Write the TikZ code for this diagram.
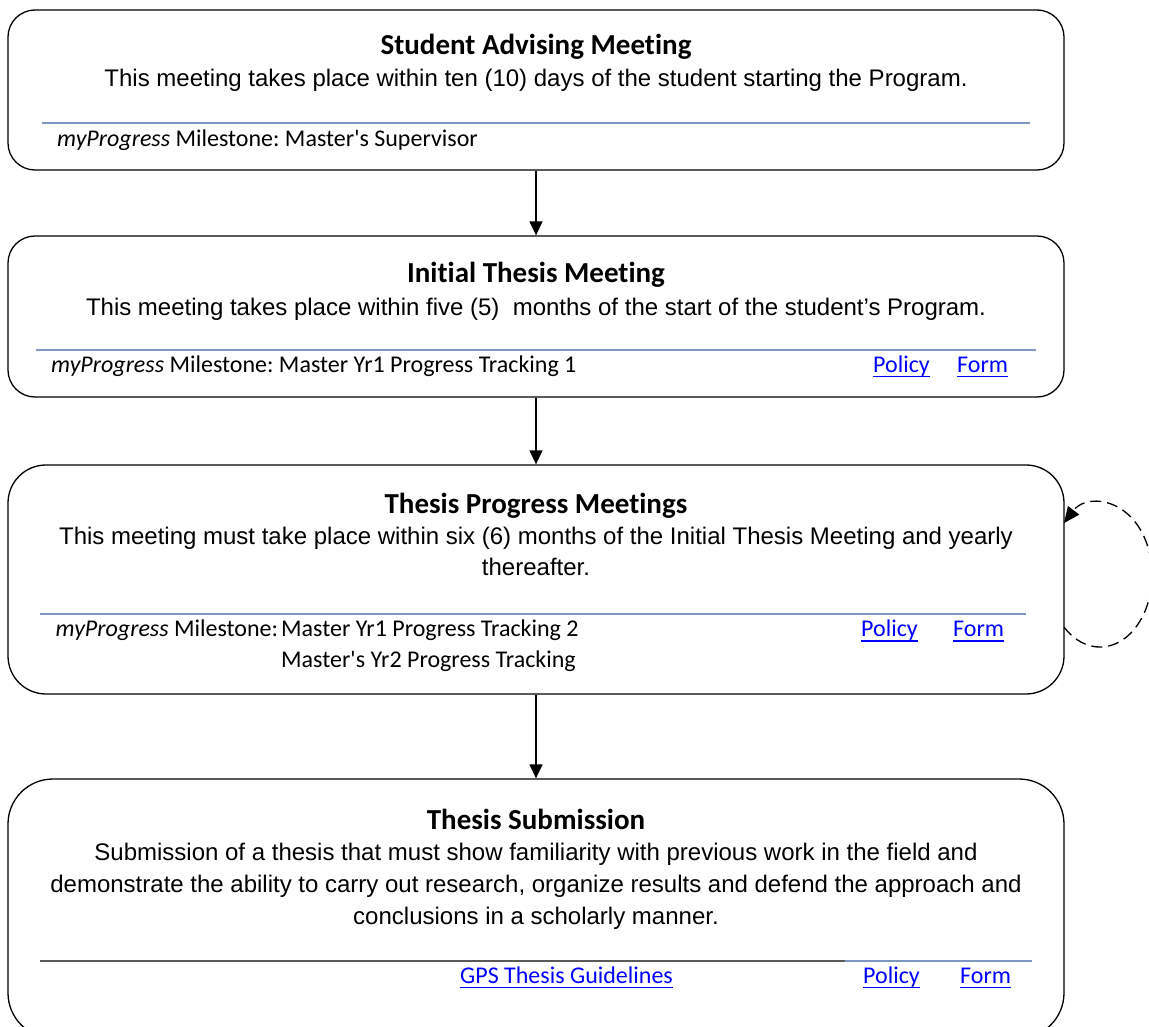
\documentclass[tikz,border=0pt]{standalone}
\usepackage{fontspec}
\setmainfont{Liberation Sans}
\newfontfamily\calibri[Ligatures=NoCommon]{Carlito}
\usetikzlibrary{arrows.meta}
\definecolor{ruleblue}{RGB}{126,151,193}
\definecolor{rulegray}{RGB}{89,89,89}
\definecolor{linkblue}{RGB}{0,0,255}
\newcommand{\lnk}[1]{\textcolor{linkblue}{\sbox0{#1}\rlap{\rule[-5.3pt]{\wd0}{1.6pt}}\usebox0}}
\frenchspacing
\begin{document}
\begin{tikzpicture}[x=1pt,y=1pt,
  meetbox/.style={draw=black,line width=1.3pt,rounded corners=#1,inner sep=0pt,minimum width=1056pt},
  headtxt/.style={anchor=base,inner sep=0pt,font=\calibri\bfseries\fontsize{29}{31}\selectfont},
  bodytxt/.style={anchor=base,inner sep=0pt,font=\fontsize{24}{31}\selectfont},
  milestxt/.style={anchor=base west,inner sep=0pt,font=\calibri\fontsize{24}{31}\selectfont},
  steparrow/.style={line width=1.3pt,-{Triangle[length=14pt,width=13pt]}},
  rulebar/.style={ruleblue,line width=1.5pt}]
  \useasboundingbox (0,0) rectangle (1149,-1027);
  % boxes
  \node[meetbox=27pt,minimum height=160pt] (advising) at (536,-90) {};
  \node[meetbox=27pt,minimum height=161pt] (initial) at (536,-316.5) {};
  \node[meetbox=38pt,minimum height=229pt] (progress) at (536,-579.5) {};
  \node[meetbox=45pt,minimum height=259pt] (submission) at (536,-908.5) {};
  % student advising meeting
  \node[headtxt] (advisinghead) at (536,-55) {Student Advising Meeting};
  \node[bodytxt] (advisingbody) at (536,-87) {This meeting takes place within ten (10) days of the student starting the Program.};
  \draw[rulebar] (42,-123) -- (1030,-123);
  \node[milestxt] (advisingmile) at (57,-147) {\textit{myProgress} Milestone: Master's Supervisor};
  % initial thesis meeting
  \node[headtxt] (initialhead) at (536,-283) {Initial Thesis Meeting};
  \node[bodytxt] (initialbody) at (536,-315) {This meeting takes place within five (5)\ \ months of the start of the student’s Program.};
  \draw[rulebar] (36,-350) -- (1036,-350);
  \node[milestxt] (initialmile) at (51,-372) {\textit{myProgress} Milestone: Master Yr1 Progress Tracking 1};
  \node[milestxt] (initialpolicy) at (873,-372) {\lnk{Policy}};
  \node[milestxt] (initialform) at (957,-372) {\lnk{Form}};
  % thesis progress meetings
  \node[headtxt] (progresshead) at (536,-513) {Thesis Progress Meetings};
  \node[bodytxt] (progressbodya) at (536,-544) {This meeting must take place within six (6) months of the Initial Thesis Meeting and yearly};
  \node[bodytxt] (progressbodyb) at (536,-575) {thereafter.};
  \draw[rulebar] (40,-614) -- (1026,-614);
  \node[milestxt] (progressmile) at (55.5,-636.5) {\textit{myProgress} Milestone:};
  \node[milestxt] (progressyra) at (281,-636.5) {Master Yr1 Progress Tracking 2};
  \node[milestxt] (progressyrb) at (281,-667) {Master's Yr2 Progress Tracking};
  \node[milestxt] (progresspolicy) at (861,-636.5) {\lnk{Policy}};
  \node[milestxt] (progressform) at (953,-636.5) {\lnk{Form}};
  % thesis submission
  \node[headtxt] (submissionhead) at (536,-829) {Thesis Submission};
  \node[bodytxt] (submissionbodya) at (536,-860) {Submission of a thesis that must show familiarity with previous work in the field and};
  \node[bodytxt] (submissionbodyb) at (536,-892) {demonstrate the ability to carry out research, organize results and defend the approach and};
  \node[bodytxt] (submissionbodyc) at (536,-924) {conclusions in a scholarly manner.};
  \draw[rulegray,line width=1.5pt] (40,-961) -- (844.5,-961);
  \draw[rulebar] (844.5,-961) -- (1032,-961);
  \node[milestxt] (submissionguide) at (460,-983) {\lnk{GPS Thesis Guidelines}};
  \node[milestxt] (submissionpolicy) at (863,-983) {\lnk{Policy}};
  \node[milestxt] (submissionform) at (960,-983) {\lnk{Form}};
  % arrows
  \draw[steparrow] (advising.south) -- (initial.north);
  \draw[steparrow] (initial.south) -- (progress.north);
  \draw[steparrow] (progress.south) -- (submission.north);
  % yearly loop
  \coordinate (loopout) at (1064,-627);
  \coordinate (loopin) at (1064,-523);
  \draw[line width=1.3pt,dash pattern=on 11pt off 6pt,-{Triangle[length=16pt,width=14pt]}]
    (loopout) arc[start angle=226.2,end angle=493.8,x radius=52,y radius=72];
\end{tikzpicture}
\end{document}
